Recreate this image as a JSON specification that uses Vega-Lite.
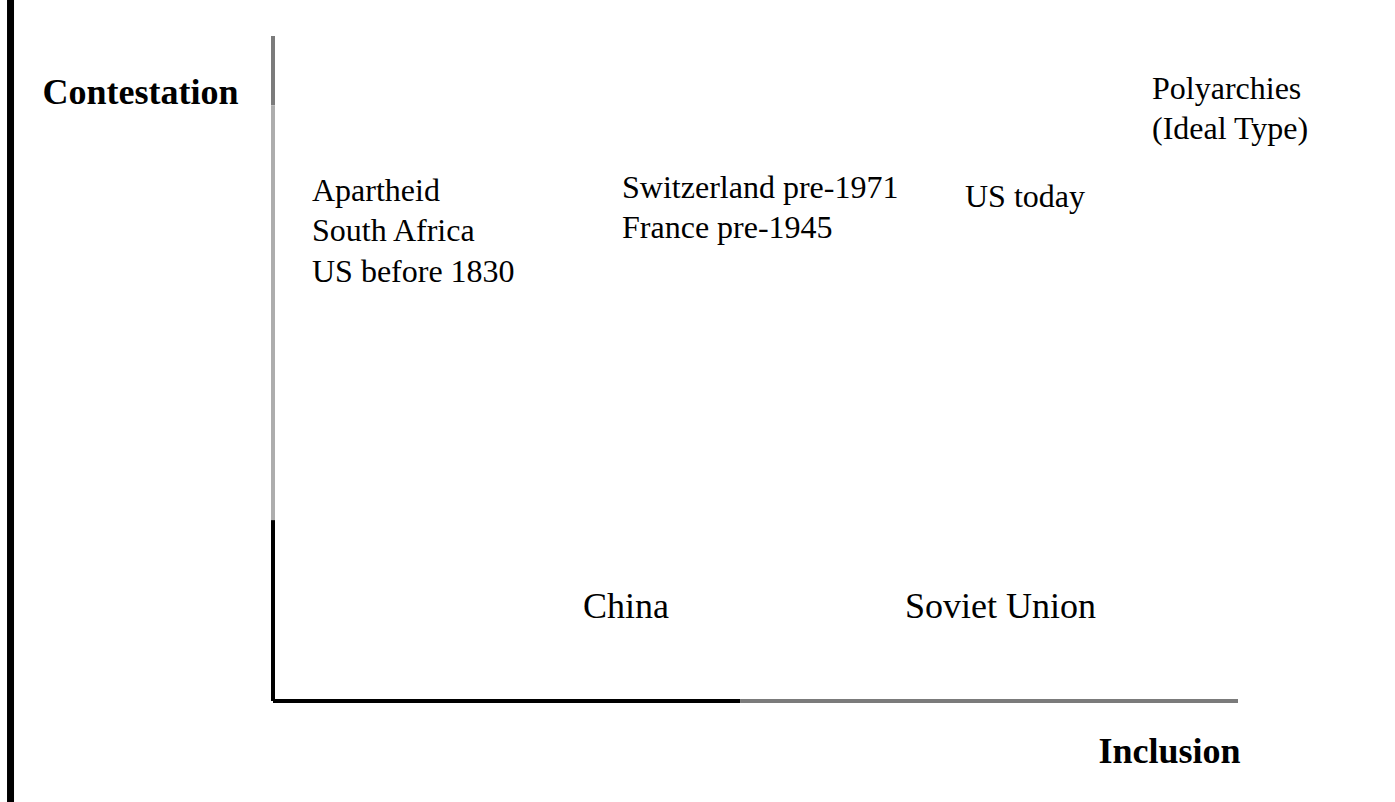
{
  "$schema": "https://vega.github.io/schema/vega-lite/v6.json",
  "width": 965,
  "height": 665,
  "autosize": {"type": "none"},
  "padding": {"left": 273, "top": 36, "right": 157, "bottom": 101},
  "background": "white",
  "config": {"view": {"stroke": null}, "text": {"font": "Liberation Serif"}},
  "datasets": {
    "frame": [
      {"inclusion": 0, "inclusion_end": 0, "contestation": 100, "contestation_end": 89.6, "part": "faded"},
      {"inclusion": 0, "inclusion_end": 0, "contestation": 89.6, "contestation_end": 27.2, "part": "pale"},
      {"inclusion": 0, "inclusion_end": 0, "contestation": 27.2, "contestation_end": 0, "part": "ink"},
      {"inclusion": 0, "inclusion_end": 48.4, "contestation": 0, "contestation_end": 0, "part": "ink"},
      {"inclusion": 48.4, "inclusion_end": 100, "contestation": 0, "contestation_end": 0, "part": "faded"}
    ],
    "border": [
      {"inclusion": -27.2, "contestation": -15.2, "contestation_end": 105.5}
    ],
    "upper": [
      {"inclusion": 4.04, "contestation": 75.2, "label": "Apartheid\nSouth Africa\nUS before 1830"},
      {"inclusion": 36.17, "contestation": 75.64, "label": "Switzerland pre-1971\nFrance pre-1945"},
      {"inclusion": 71.71, "contestation": 74.29, "label": "US today"},
      {"inclusion": 91.09, "contestation": 90.53, "label": "Polyarchies\n(Ideal Type)"}
    ],
    "lower": [
      {"inclusion": 32.12, "contestation": 12.48, "label": "China"},
      {"inclusion": 65.49, "contestation": 12.48, "label": "Soviet Union"}
    ]
  },
  "encoding": {
    "x": {
      "field": "inclusion",
      "type": "quantitative",
      "scale": {"domain": [0, 100], "nice": false, "zero": false},
      "axis": {
        "title": "Inclusion",
        "domain": false,
        "ticks": false,
        "labels": false,
        "grid": false,
        "titleFont": "Liberation Serif",
        "titleFontSize": 36,
        "titleFontWeight": "bold",
        "titleColor": "black",
        "titleAlign": "right",
        "titleBaseline": "alphabetic",
        "titleAnchor": null,
        "titleX": 967,
        "titleY": 61
      }
    },
    "y": {
      "field": "contestation",
      "type": "quantitative",
      "scale": {"domain": [0, 100], "nice": false, "zero": false},
      "axis": {
        "title": "Contestation",
        "domain": false,
        "ticks": false,
        "labels": false,
        "grid": false,
        "titleFont": "Liberation Serif",
        "titleFontSize": 36,
        "titleFontWeight": "bold",
        "titleColor": "black",
        "titleAngle": 0,
        "titleAlign": "left",
        "titleBaseline": "alphabetic",
        "titleAnchor": null,
        "titleX": -231,
        "titleY": 67
      }
    }
  },
  "layer": [
    {
      "data": {"name": "border"},
      "mark": {"type": "rule", "color": "black", "strokeWidth": 7},
      "encoding": {
        "y2": {"field": "contestation_end"}
      }
    },
    {
      "data": {"name": "frame"},
      "mark": {"type": "rule", "strokeWidth": 4},
      "encoding": {
        "x2": {"field": "inclusion_end"},
        "y2": {"field": "contestation_end"},
        "color": {
          "field": "part",
          "type": "nominal",
          "scale": {"domain": ["ink", "faded", "pale"], "range": ["#000000", "#7b7b7b", "#adadad"]},
          "legend": null
        }
      }
    },
    {
      "data": {"name": "upper"},
      "mark": {"type": "text", "align": "left", "baseline": "alphabetic", "fontSize": 32, "lineBreak": "\n", "lineHeight": 40.5, "color": "black", "font": "Liberation Serif"},
      "encoding": {
        "text": {"field": "label", "type": "nominal"}
      }
    },
    {
      "data": {"name": "lower"},
      "mark": {"type": "text", "align": "left", "baseline": "alphabetic", "fontSize": 36, "color": "black", "font": "Liberation Serif"},
      "encoding": {
        "text": {"field": "label", "type": "nominal"}
      }
    }
  ]
}
